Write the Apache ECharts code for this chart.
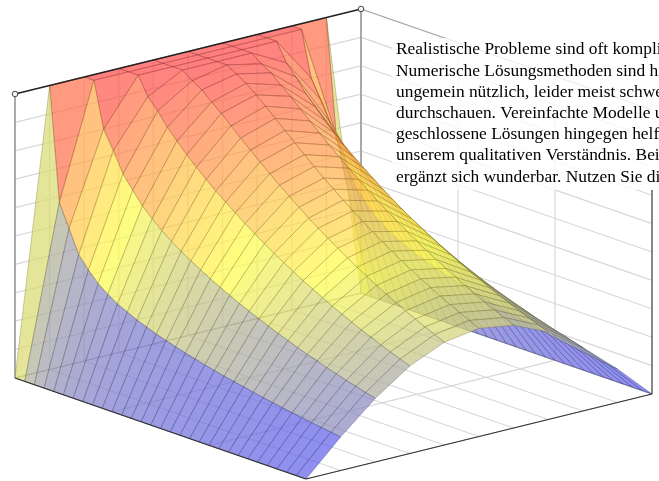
<!DOCTYPE html>
<html><head><meta charset="utf-8">
<style>html,body{margin:0;padding:0;background:#fff}#c{width:659px;height:481px}</style>
<script src="https://cdn.jsdelivr.net/npm/echarts@6/dist/echarts.min.js"></script>
</head><body><div id="c"></div>
<script>
// Surface height at position index (columns, a = 0 .. 1) and time step (rows, b = 0 .. 1)
const surface = [
[0,10,10,10,10,10,10,10,10,10,0],
[0,6,10,10,10,10,10,10,10,6,0],
[0,5.2,8.4,10,10,10,10,10,8.4,5.2,0],
[0,4.4,7.76,9.36,10,10,10,9.36,7.76,4.4,0],
[0,3.98,7.06,8.98,9.74,10,9.74,8.98,7.06,3.98,0],
[0,3.62,6.6,8.52,9.54,9.8,9.54,8.52,6.6,3.62,0],
[0,3.36,6.17,8.16,9.23,9.59,9.23,8.16,6.17,3.36,0],
[0,3.14,5.84,7.79,8.95,9.3,8.95,7.79,5.84,3.14,0],
[0,2.97,5.54,7.47,8.63,9.02,8.63,7.47,5.54,2.97,0],
[0,2.81,5.28,7.16,8.32,8.71,8.32,7.16,5.28,2.81,0],
[0,2.68,5.05,6.87,8.01,8.4,8.01,6.87,5.05,2.68,0],
[0,2.55,4.83,6.6,7.71,8.09,7.71,6.6,4.83,2.55,0],
[0,2.44,4.63,6.34,7.42,7.79,7.42,6.34,4.63,2.44,0],
[0,2.34,4.44,6.08,7.13,7.49,7.13,6.08,4.44,2.34,0],
[0,2.24,4.26,5.84,6.86,7.2,6.86,5.84,4.26,2.24,0],
[0,2.15,4.09,5.61,6.59,6.93,6.59,5.61,4.09,2.15,0],
[0,2.06,3.92,5.39,6.33,6.66,6.33,5.39,3.92,2.06,0],
[0,1.98,3.77,5.18,6.09,6.4,6.09,5.18,3.77,1.98,0],
[0,1.9,3.62,4.98,5.85,6.15,5.85,4.98,3.62,1.9,0],
[0,1.83,3.48,4.78,5.62,5.91,5.62,4.78,3.48,1.83,0],
[0,1.76,3.34,4.6,5.4,5.68,5.4,4.6,3.34,1.76,0],
[0,1.69,3.21,4.42,5.19,5.46,5.19,4.42,3.21,1.69,0],
[0,1.62,3.08,4.24,4.99,5.24,4.99,4.24,3.08,1.62,0],
[0,1.56,2.96,4.08,4.79,5.04,4.79,4.08,2.96,1.56,0],
[0,1.5,2.85,3.92,4.6,4.84,4.6,3.92,2.85,1.5,0],
[0,1.44,2.73,3.76,4.42,4.65,4.42,3.76,2.73,1.44,0],
[0,1.38,2.63,3.62,4.25,4.47,4.25,3.62,2.63,1.38,0],
[0,1.33,2.52,3.47,4.08,4.29,4.08,3.47,2.52,1.33,0],
[0,1.28,2.43,3.34,3.92,4.13,3.92,3.34,2.43,1.28,0],
[0,1.23,2.33,3.21,3.77,3.97,3.77,3.21,2.33,1.23,0],
[0,1.18,2.24,3.08,3.62,3.81,3.62,3.08,2.24,1.18,0]
];
const aTicks = [0,0.1,0.2,0.3,0.4,0.5,0.6,0.7,0.8,0.9,1];
const bTicks = [0,1/3,2/3,1];
const zTicks = [0,1,2,3,4,5,6,7,8,9,10];
const colorStops = ['#0000ff','#ffff00','#ff0000'];
const noteLines = [
 'Realistische Probleme sind oft kompliziert.',
 'Numerische Lösungsmethoden sind hierzu',
 'ungemein nützlich, leider meist schwer zu',
 'durchschauen. Vereinfachte Modelle und',
 'geschlossene Lösungen hingegen helfen',
 'unserem qualitativen Verständnis. Beides',
 'ergänzt sich wunderbar. Nutzen Sie die'
];

// Oblique view of the box onto the page axes
const view = {ox:361, oy:293, ax:-346, ay:85, bx:291, by:101, zu:28.4};
const proj = (a,b,z)=>[view.ox+view.ax*a+view.bx*b, view.oy+view.ay*a+view.by*b-view.zu*z];
const zMax = zTicks[zTicks.length-1];
const nRows = surface.length-1, nCols = surface[0].length-1;

const wallLines = [], backEdges = [], rightEdge = [], frontEdges = [];
aTicks.forEach(a=>{ wallLines.push([a,0,0,a,0,zMax]); wallLines.push([a,0,0,a,1,0]); });
bTicks.forEach(b=>{ wallLines.push([0,b,0,0,b,zMax]); wallLines.push([0,b,0,1,b,0]); });
zTicks.forEach(z=>{ wallLines.push([0,0,z,1,0,z]); wallLines.push([0,0,z,0,1,z]); });
backEdges.push([1,0,0,1,0,zMax],[0,0,0,0,0,zMax]);
const thinBack = [[0,0,zMax,0,1,zMax],[0,0,0,1,0,0],[0,0,0,0,1,0]];
rightEdge.push([0,1,0,0,1,zMax]);
frontEdges.push([0,1,0,1,1,0],[1,0,0,1,1,0]);
const topEdge = [[0,0,zMax,1,0,zMax]];
const corners = [[1,0,zMax],[0,0,zMax]];

const cells = [];
for(let i=0;i<nCols;i++) for(let k=0;k<nRows;k++) cells.push([i,k]);

function mapColor(z){
  const t = Math.max(0,Math.min(1,z/zMax));
  return echarts.color.lerp(t,colorStops);
}
function shade(c,f,al){
  const p = echarts.color.parse(c);
  return 'rgba('+Math.round(p[0]*f)+','+Math.round(p[1]*f)+','+Math.round(p[2]*f)+','+al+')';
}
function lineSeries(data,stroke,width,z){
  return {type:'custom',coordinateSystem:'cartesian2d',clip:false,silent:true,z:z,data:data,
    renderItem:(p,api)=>{
      const s=api.coord(proj(api.value(0),api.value(1),api.value(2)));
      const e=api.coord(proj(api.value(3),api.value(4),api.value(5)));
      return {type:'line',shape:{x1:s[0],y1:s[1],x2:e[0],y2:e[1]},style:{stroke:stroke,lineWidth:width,fill:null}};
    }};
}
const chart = echarts.init(document.getElementById('c'),null,{renderer:'canvas'});
chart.setOption({
  animation:false,
  grid:{left:0,right:0,top:0,bottom:0,containLabel:false},
  xAxis:{type:'value',min:0,max:659,show:false},
  yAxis:{type:'value',min:0,max:481,inverse:true,show:false},
  series:[
    lineSeries(wallLines,'#d8d8d8',1.2,1),
    lineSeries(thinBack,'#a8a8a8',1.1,2),
    lineSeries(backEdges,'#a0a0a0',1.7,2),
    {type:'custom',coordinateSystem:'cartesian2d',clip:false,silent:true,z:3,data:cells,
      renderItem:(p,api)=>{
        const i=api.value(0),k=api.value(1);
        const pts=[[i,k],[i+1,k],[i+1,k+1],[i,k+1]];
        let sum=0;
        const poly=pts.map(q=>{
          const z=surface[q[1]][q[0]]; sum+=z;
          return api.coord(proj(aTicks[q[0]],q[1]/nRows,z));
        });
        const c=mapColor(sum/4);
        return {type:'group',children:[
          {type:'polygon',shape:{points:poly},style:{fill:'rgba(255,255,255,0.42)'}},
          {type:'polygon',shape:{points:poly},
            style:{fill:shade(c,1,0.5),stroke:shade(c,0.4,0.3),lineWidth:0.9,lineJoin:'round'}}
        ]};
      }},
    lineSeries(topEdge,'#222',1.3,4),
    lineSeries(frontEdges,'#333',1.2,4),
    lineSeries(rightEdge,'#555',1.3,4),
    {type:'custom',coordinateSystem:'cartesian2d',clip:false,silent:true,z:5,data:corners,
      renderItem:(p,api)=>{
        const c=api.coord(proj(api.value(0),api.value(1),api.value(2)));
        return {type:'circle',shape:{cx:c[0],cy:c[1],r:2.8},style:{fill:'#f4f4f4',stroke:'#444',lineWidth:1}};
      }}
  ],
  graphic:{elements:[
    {type:'rect',z:50,shape:{x:392,y:38,width:267,height:152},style:{fill:'rgba(255,255,255,0.8)'},silent:true},
    {type:'rect',z:50,shape:{x:650,y:105,width:9,height:85},style:{fill:'#fff'},silent:true}
  ].concat(noteLines.map((t,i)=>({type:'text',z:51,x:396,y:49.8+i*21.2,silent:true,
    style:{text:t,fill:'#000',font:'17.4px "Liberation Serif"',textVerticalAlign:'middle',textAlign:'left'}})))}
});
</script></body></html>
